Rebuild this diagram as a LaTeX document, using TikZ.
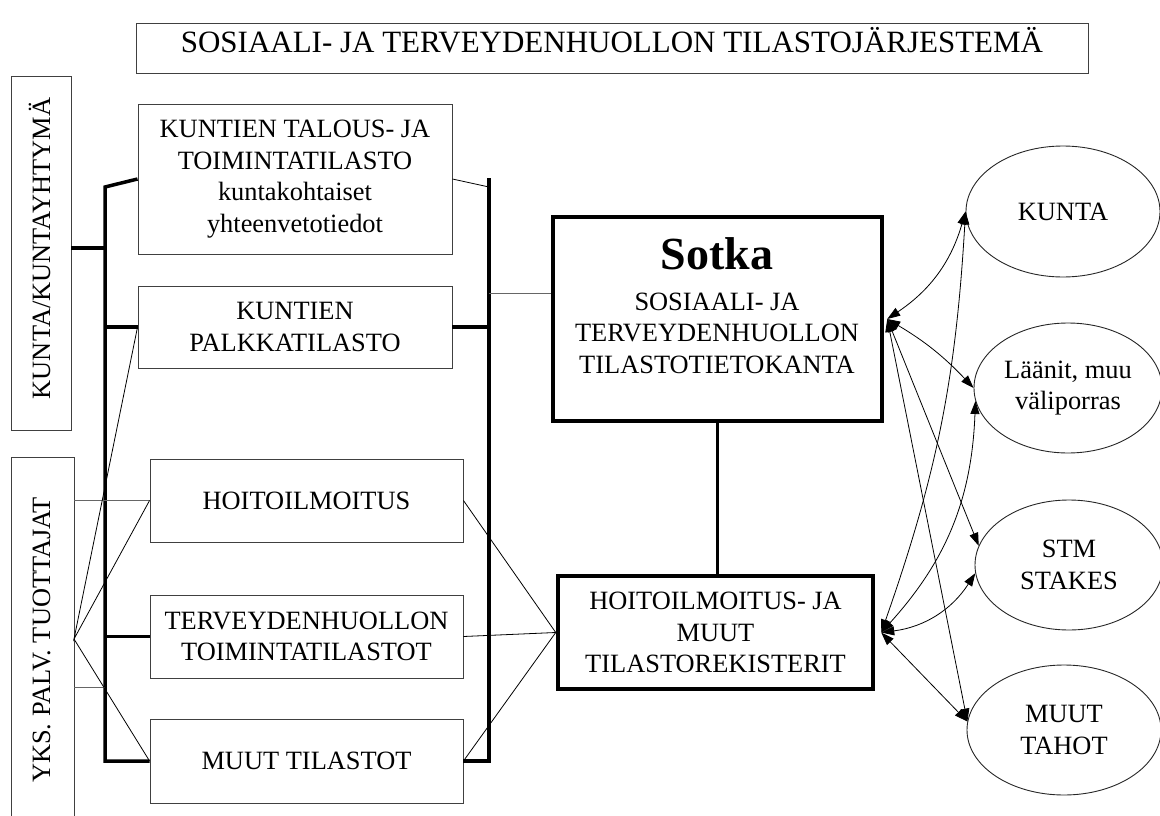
\documentclass[tikz,border=0pt]{standalone}
\usepackage{fontspec}
\setmainfont{Liberation Serif}
\usetikzlibrary{arrows.meta,shapes.geometric,calc}
\begin{document}
\begin{tikzpicture}[x=1pt,y=1pt,
  txt/.style={font=\fontsize{26.4}{31.5}\selectfont,align=center,inner sep=0pt},
  box/.style={draw=black!75,line width=0.9pt,rectangle,inner sep=0pt,txt},
  ell/.style={draw=black!85,line width=0.9pt,ellipse,inner sep=0pt,txt},
  bigbox/.style={draw=black,line width=4.5pt,rectangle,inner sep=0pt,txt},
  bus/.style={line width=3.5pt},
  thinline/.style={line width=0.8pt},
  grayline/.style={draw=black!60,line width=1pt},
  arr/.style={line width=0.8pt,{Triangle[length=13pt,width=9pt]}-{Triangle[length=13pt,width=9pt]}},
]
\useasboundingbox (0,0) rectangle (1160,-816);
\begin{scope}
\clip (0,0) rectangle (1160,-816);
% title
\node[box,minimum width=952,minimum height=50] (title) at (612,-48) {};
\node[txt,anchor=base,font=\fontsize{31}{36}\selectfont] (titletext) at (612,-52.5) {SOSIAALI- JA TERVEYDENHUOLLON TILASTOJÄRJESTEMÄ};
% left vertical boxes
\node[box,minimum width=60,minimum height=354] (K1) at (41,-253) {};
\node[txt,rotate=90,anchor=base] (K1text) at (50,-248.5) {KUNTA/KUNTAYHTYMÄ};
\node[box,minimum width=63,minimum height=373] (K2) at (42.5,-643.5) {};
\node[txt,rotate=90,anchor=base] (K2text) at (50,-640) {YKS. PALV. TUOTTAJAT};
% statistics boxes
\node[box,minimum width=314,minimum height=150] (TAL) at (295,-179) {KUNTIEN TALOUS- JA\\TOIMINTATILASTO\\kuntakohtaiset\\yhteenvetotiedot};
\node[box,minimum width=314,minimum height=82] (PAL) at (295,-327) {KUNTIEN\\PALKKATILASTO};
\node[box,minimum width=313,minimum height=83] (HOI) at (306.5,-500.5) {HOITOILMOITUS};
\node[box,minimum width=313,minimum height=83] (TER) at (306.5,-636.5) {TERVEYDENHUOLLON\\TOIMINTATILASTOT};
\node[box,minimum width=313,minimum height=84] (MUU) at (306.5,-761) {MUUT TILASTOT};
% central boxes
\node[bigbox,minimum width=329,minimum height=204] (SOT) at (717.5,-319) {};
\node[txt,anchor=base,font=\fontsize{46}{50}\selectfont\bfseries] (sotkaname) at (717,-269) {Sotka};
\node[txt] (sotkatext) at (717,-333) {SOSIAALI- JA\\TERVEYDENHUOLLON\\TILASTOTIETOKANTA};
\node[bigbox,minimum width=315,minimum height=113] (HR) at (715.5,-632.5) {HOITOILMOITUS- JA\\MUUT\\TILASTOREKISTERIT};
% ellipses
\node[ell,minimum width=194,minimum height=131] (KUN) at (1063,-211.5) {KUNTA};
\node[ell,minimum width=188,minimum height=130] (LAA) at (1068,-388) {Läänit, muu\\väliporras};
\node[ell,minimum width=188,minimum height=130] (STM) at (1069,-565) {STM\\STAKES};
\node[ell,minimum width=194,minimum height=130] (MUT) at (1064,-730) {MUUT\\TAHOT};
% bus coordinates
\coordinate (LBt) at (105,-187);
\coordinate (LBb) at (105,-761);
\coordinate (RBt) at (489,-178);
\coordinate (RBb) at (489,-761);
\coordinate (RBs) at (489,-187);
\coordinate (RBg) at (489,-293);
\coordinate (K1p) at (71,-248);
\coordinate (YP) at (74,-639);
\coordinate (K2q) at (74,-687);
% left bus
\draw[bus] (TAL.west) -- (LBt) -- (LBb) -- (MUU.west);
\draw[bus] (K1p) -- (K1p -| LBt);
\draw[bus] (PAL.west) -- (PAL.west -| LBt);
\draw[bus] (TER.west) -- (TER.west -| LBt);
\draw[grayline] (K2.east |- HOI.west) -- (HOI.west);
\draw[grayline] (K2q) -- (K2q -| LBt);
\draw[thinline] (PAL.west) -- (YP) -- (HOI.west);
\draw[thinline] (YP) -- (MUU.west);
% right bus
\draw[bus] (RBt) -- (RBb) -- (MUU.east);
\draw[bus] (PAL.east) -- (PAL.east -| RBt);
\draw[thinline] (TAL.east) -- (RBs);
\draw[grayline] (RBg) -- (RBg -| SOT.west);
\draw[thinline] (HOI.east) -- (HR.west);
\draw[thinline] (TER.east) -- (HR.west);
\draw[thinline] (MUU.east) -- (HR.west);
% sotka to HR
\draw[line width=2.6pt] (SOT.south) -- (SOT.south |- HR.north);
% arrows
\coordinate (S) at ($(SOT.east)+(3,0)$);
\coordinate (H) at ($(HR.east)+(6,0)$);
\draw[arr] (S) to[bend right=20] (KUN.west);
\draw[arr] (S) to[bend left=8] (LAA.west);
\draw[arr] (S) -- (STM.168);
\draw[arr] (S) -- (MUT.175);
\draw[arr] (H) to[bend right=8] (KUN.west);
\draw[arr] (H) to[bend right=20] (LAA.188);
\draw[arr] (H) to[bend right=25] (STM.185);
\draw[arr] (H) -- (MUT.175);
\end{scope}
\end{tikzpicture}
\end{document}
